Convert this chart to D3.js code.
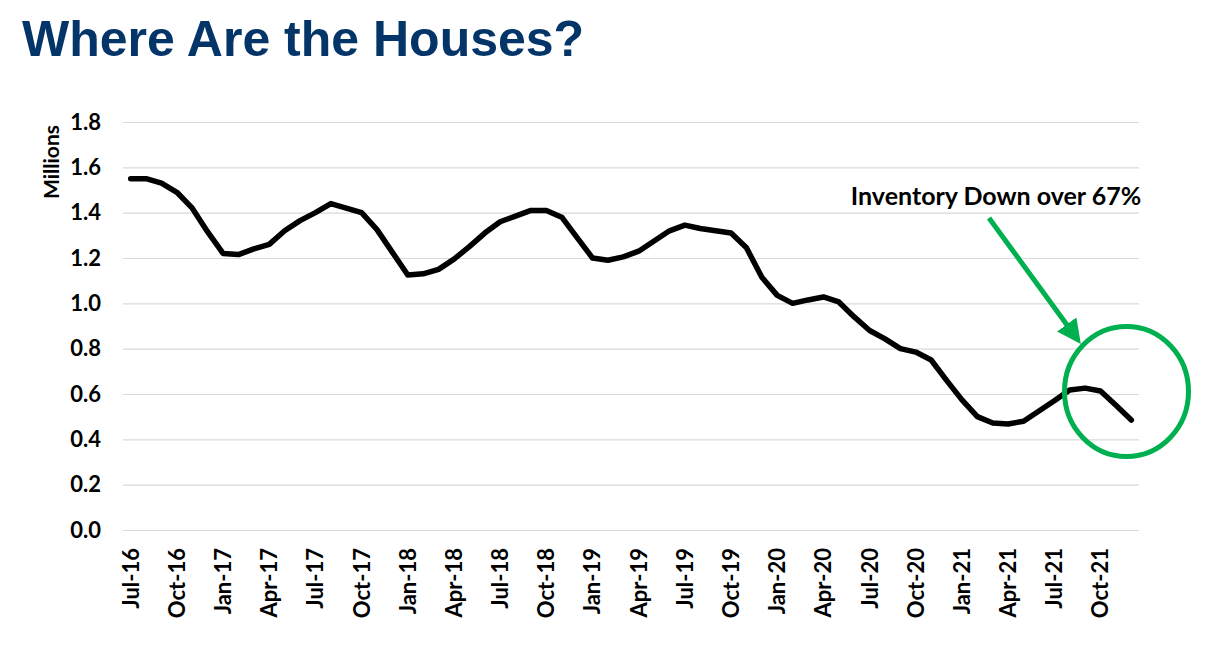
<!DOCTYPE html>
<html>
<head>
<meta charset="utf-8">
<script src="https://cdn.jsdelivr.net/npm/d3@7"></script>
<style>
  body { margin: 0; background: #fff; }
  svg { display: block; }
</style>
</head>
<body>
<svg id="chart" width="1219" height="646"></svg>
<script>
// monthly inventory, Jul-16 .. Dec-21 (millions)
const months = d3.timeMonths(new Date(2016, 6, 1), new Date(2022, 0, 1)).map(d3.timeFormat('%b-%y'));
const inventory = [
  1.55, 1.55, 1.53, 1.49, 1.42, 1.315,
  1.22, 1.215, 1.24, 1.26, 1.32, 1.365, 1.40, 1.44, 1.42, 1.40, 1.325, 1.225,
  1.125, 1.13, 1.15, 1.195, 1.25, 1.31, 1.36, 1.385, 1.41, 1.41, 1.38, 1.29,
  1.20, 1.19, 1.205, 1.23, 1.275, 1.32, 1.345, 1.33, 1.32, 1.31, 1.245, 1.115,
  1.035, 1.00, 1.015, 1.028, 1.006, 0.94, 0.88, 0.843, 0.80, 0.785, 0.75, 0.66,
  0.574, 0.50, 0.472, 0.468, 0.48, 0.525, 0.57, 0.618, 0.626, 0.613, 0.55, 0.485
];
const tickLabels = months.filter((m, i) => i % 3 === 0);
const yTicks = [0, 0.2, 0.4, 0.6, 0.8, 1.0, 1.2, 1.4, 1.6, 1.8];
const note = 'Inventory Down over 67%';

const svg = d3.select('#chart');
const font = 'Lato, "Open Sans", sans-serif';
const green = '#00b050';

const plotL = 123, plotR = 1139, plotT = 122, plotB = 530;

const x = d3.scaleBand().domain(months).range([plotL, plotR]);
const y = d3.scaleLinear().domain([0, 1.8]).range([plotB, plotT]);
const cx = m => x(m) + x.bandwidth() / 2;

// title
svg.append('text')
  .attr('x', 22)
  .attr('y', 56)
  .style('font-family', '"Liberation Sans", Arial, sans-serif')
  .style('font-weight', 'bold')
  .style('font-size', '50px')
  .style('fill', '#043568')
  .text('Where Are the Houses?');

// gridlines + y labels
const yAxis = svg.append('g')
  .attr('transform', `translate(${plotL},0)`)
  .call(d3.axisLeft(y).tickValues(yTicks).tickSize(-(plotR - plotL)).tickFormat(d3.format('.1f')));
yAxis.select('.domain').remove();
yAxis.selectAll('.tick line').attr('stroke', '#d9d9d9').attr('stroke-width', 1.2);
yAxis.selectAll('.tick text')
  .attr('x', -22)
  .style('font-family', font)
  .style('font-weight', 'bold')
  .style('font-size', '22px')
  .style('fill', '#000');

svg.append('text')
  .attr('transform', 'translate(59,162) rotate(-90)')
  .attr('text-anchor', 'middle')
  .style('font-family', font)
  .style('font-weight', 'bold')
  .style('font-size', '21px')
  .text('Millions');

// x labels
const xAxis = svg.append('g')
  .attr('transform', `translate(0,${plotB})`)
  .call(d3.axisBottom(x).tickValues(tickLabels).tickSize(0));
xAxis.select('.domain').remove();
xAxis.selectAll('.tick text')
  .attr('transform', 'rotate(-90)')
  .attr('x', -18)
  .attr('y', 0)
  .attr('dy', '0.36em')
  .attr('text-anchor', 'end')
  .style('font-family', font)
  .style('font-weight', 'bold')
  .style('font-size', '22px')
  .style('fill', '#000');

// the series
const line = d3.line()
  .x((d, i) => cx(months[i]))
  .y(d => y(d));

svg.append('path')
  .datum(inventory)
  .attr('d', line)
  .attr('fill', 'none')
  .attr('stroke', '#000')
  .attr('stroke-width', 5.5)
  .attr('stroke-linejoin', 'round')
  .attr('stroke-linecap', 'round');

// annotation
svg.append('text')
  .attr('x', 996)
  .attr('y', 205)
  .attr('text-anchor', 'middle')
  .style('font-family', font)
  .style('font-weight', 'bold')
  .style('font-size', '25px')
  .text(note);

svg.append('defs').append('marker')
  .attr('id', 'head')
  .attr('viewBox', '0 0 10 10')
  .attr('refX', 8).attr('refY', 5)
  .attr('markerWidth', 4.8).attr('markerHeight', 4.8)
  .attr('orient', 'auto')
  .append('path')
  .attr('d', 'M0,0 L10,5 L0,10 Z')
  .attr('fill', green);

svg.append('line')
  .attr('x1', 989).attr('y1', 218)
  .attr('x2', 1078).attr('y2', 340)
  .attr('stroke', green)
  .attr('stroke-width', 5)
  .attr('marker-end', 'url(#head)');

svg.append('ellipse')
  .attr('cx', 1126.5).attr('cy', 391.5)
  .attr('rx', 62).attr('ry', 65)
  .attr('fill', 'none')
  .attr('stroke', green)
  .attr('stroke-width', 5);
</script>
</body>
</html>
